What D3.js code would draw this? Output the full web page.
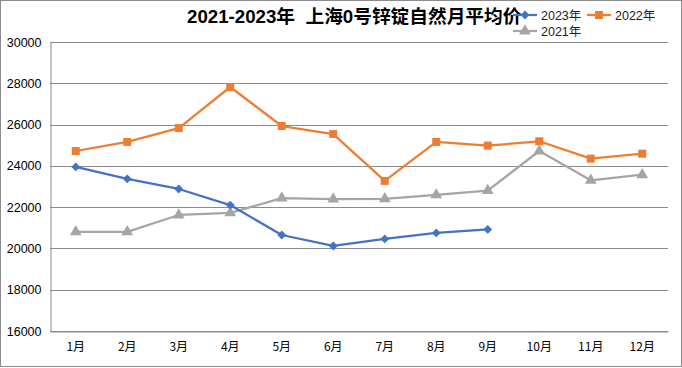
<!DOCTYPE html>
<html>
<head>
<meta charset="utf-8">
<script src="https://cdn.jsdelivr.net/npm/d3@7"></script>
<style>
  body { margin: 0; background: #fff; }
  svg { display: block; font-family: "Liberation Sans", "Noto Sans CJK SC", sans-serif; }
</style>
</head>
<body>
<div id="chart"></div>
<script>
// month labels
var months = ["1月", "2月", "3月", "4月", "5月", "6月", "7月", "8月", "9月", "10月", "11月", "12月"];
var yTicks = [16000, 18000, 20000, 22000, 24000, 26000, 28000, 30000];

// monthly average prices
var price2023 = [23950, 23370, 22880, 22100, 20650, 20120, 20460, 20750, 20920];
var price2022 = [24720, 25160, 25830, 27820, 25930, 25540, 23270, 25160, 24980, 25190, 24350, 24590];
var price2021 = [20800, 20800, 21620, 21720, 22440, 22390, 22400, 22590, 22800, 24720, 23300, 23570];

var seriesList = [
  { name: "2023年", values: price2023, color: "#4472C4", shape: "diamond" },
  { name: "2022年", values: price2022, color: "#ED7D31", shape: "square" },
  { name: "2021年", values: price2021, color: "#A5A5A5", shape: "triangle" }
];

var W = 682, H = 368;
var margin = { top: 42, right: 14, bottom: 37, left: 50 };

var svg = d3.select("#chart").append("svg")
  .attr("width", W).attr("height", H);

// outer border
svg.append("rect")
  .attr("x", 0.5).attr("y", 0.5)
  .attr("width", W - 1).attr("height", H - 2)
  .attr("fill", "#fff").attr("stroke", "#8c8c8c");

var x = d3.scaleBand().domain(months).range([margin.left, W - margin.right]);
var y = d3.scaleLinear().domain([16000, 30000]).range([H - margin.bottom, margin.top]);

// gridlines
svg.append("g")
  .selectAll("line").data(yTicks).enter().append("line")
  .attr("x1", margin.left).attr("x2", W - margin.right)
  .attr("y1", function(d) { return Math.round(y(d)) + 0.5; })
  .attr("y2", function(d) { return Math.round(y(d)) + 0.5; })
  .attr("stroke", "#8a8a8a").attr("stroke-width", 1);

// y axis
var yAxis = svg.append("g")
  .attr("transform", "translate(" + (margin.left + 0.5) + ",0)")
  .call(d3.axisLeft(y).tickValues(yTicks).tickSize(0).tickPadding(9).tickFormat(d3.format("d")));
yAxis.select(".domain").attr("stroke", "#8a8a8a");
yAxis.selectAll("text").attr("font-size", "12.5px").attr("fill", "#000")
  .attr("font-family", "Liberation Sans, sans-serif");

// x axis
var xAxis = svg.append("g")
  .attr("transform", "translate(0," + (Math.round(y(16000)) + 0.5) + ")")
  .call(d3.axisBottom(x).tickSize(0).tickPadding(11));
xAxis.select(".domain").attr("stroke", "#8a8a8a");
xAxis.selectAll("text").attr("font-size", "12px").attr("fill", "#000")
  .attr("font-family", "Noto Sans CJK SC, sans-serif");

var line = d3.line()
  .x(function(d, i) { return x(months[i]) + x.bandwidth() / 2; })
  .y(function(d) { return y(d); });

function symbolFor(shape) {
  if (shape === "diamond") return d3.symbol().type(d3.symbolDiamond2).size(50)();
  if (shape === "square") return d3.symbol().type(d3.symbolSquare).size(64)();
  return d3.symbol().type(d3.symbolTriangle).size(60)();
}

// draw in back-to-front order: 2021, 2022, 2023
seriesList.slice().reverse().forEach(function(s) {
  var g = svg.append("g");
  g.append("path")
    .datum(s.values)
    .attr("fill", "none")
    .attr("stroke", s.color)
    .attr("stroke-width", 2.25)
    .attr("stroke-linejoin", "round")
    .attr("d", line);
  g.selectAll("path.m").data(s.values).enter().append("path")
    .attr("class", "m")
    .attr("transform", function(d, i) {
      return "translate(" + (x(months[i]) + x.bandwidth() / 2) + "," + y(d) + ")";
    })
    .attr("d", symbolFor(s.shape))
    .attr("fill", s.color);
});

// title
svg.append("text")
  .attr("x", 187).attr("y", 23)
  .attr("font-family", "Liberation Sans, Noto Sans CJK SC, sans-serif")
  .attr("font-weight", "bold")
  .attr("font-size", "18.7px")
  .attr("fill", "#000")
  .style("white-space", "pre")
  .text("2021-2023年  上海0号锌锭自然月平均价");

// legend
var legendItems = [
  { s: seriesList[0], x: 513, y: 15 },
  { s: seriesList[1], x: 587, y: 15 },
  { s: seriesList[2], x: 513, y: 31 }
];
var lg = svg.append("g");
legendItems.forEach(function(it) {
  lg.append("line")
    .attr("x1", it.x).attr("x2", it.x + 24)
    .attr("y1", it.y).attr("y2", it.y)
    .attr("stroke", it.s.color).attr("stroke-width", 2.25);
  lg.append("path")
    .attr("transform", "translate(" + (it.x + 12) + "," + it.y + ")")
    .attr("d", symbolFor(it.s.shape))
    .attr("fill", it.s.color);
  lg.append("text")
    .attr("x", it.x + 28).attr("y", it.y + 4.5)
    .attr("font-size", "12.5px")
    .attr("fill", "#222")
    .attr("font-family", "Liberation Sans, Noto Sans CJK SC, sans-serif")
    .text(it.s.name);
});
</script>
</body>
</html>
